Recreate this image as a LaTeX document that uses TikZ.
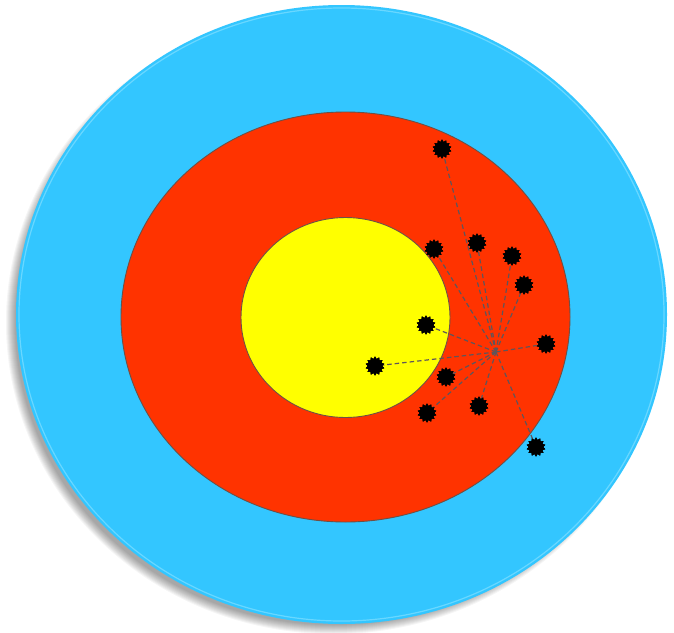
\documentclass[tikz,border=0pt]{standalone}
\usetikzlibrary{shapes.geometric}
\definecolor{tblue}{RGB}{51,198,255}
\definecolor{trim}{RGB}{150,230,255}
\definecolor{tred}{RGB}{255,51,0}
\definecolor{tyellow}{RGB}{255,255,0}
\definecolor{ringline}{RGB}{110,80,70}
\definecolor{dashcol}{RGB}{95,85,90}
\tikzset{
  hole/.style={star, star points=14, star point ratio=1.35, fill=black, draw=black, line width=0.3pt, minimum size=18.5pt, inner sep=0pt},
  shotline/.style={dashcol, dashed, dash pattern=on 4.5pt off 3pt, line width=1.2pt},
  ring/.style={draw=ringline, line width=0.9pt}
}
\begin{document}
\begin{tikzpicture}[x=1pt,y=-1pt]
\useasboundingbox (0,0) rectangle (674,632);
\fill[white] (0,0) rectangle (674,632);
% soft shadow
\foreach \k in {0,...,9}
  \fill[black, opacity=0.04] (333.5,322.5) ellipse ({327.5-\k} and {311.5-\k});
% blue ring
\fill[tblue] (341.5,314.5) ellipse (325.5 and 309.5);
\draw[trim, line width=1.2pt, opacity=0.55] (341.5,314.5) ellipse (322.5 and 306.5);
% red ring
\fill[tred] (345.5,317) ellipse (224.5 and 205);
\draw[ring] (345.5,317) ellipse (224.5 and 205);
% yellow center
\fill[tyellow] (345.5,317.5) ellipse (104.5 and 100);
\draw[ring] (345.5,317.5) ellipse (104.5 and 100);
% centre of group
\coordinate (c) at (496,352);
% holes
\node[hole] (h1) at (442,149) {};
\node[hole] (h2) at (434,249) {};
\node[hole] (h3) at (477,243) {};
\node[hole] (h4) at (512,256) {};
\node[hole] (h5) at (524,285) {};
\node[hole] (h6) at (426,325) {};
\node[hole] (h7) at (546,344) {};
\node[hole] (h8) at (375,366) {};
\node[hole] (h9) at (446,377) {};
\node[hole] (h10) at (427,413) {};
\node[hole] (h11) at (479,406) {};
\node[hole] (h12) at (536,447) {};
% connectors
\foreach \i in {1,...,12}
  \draw[shotline] (c) -- (h\i.center);
% redraw holes on top
\foreach \i in {1,...,12}
  \node[hole] at (h\i) {};
\end{tikzpicture}
\end{document}
